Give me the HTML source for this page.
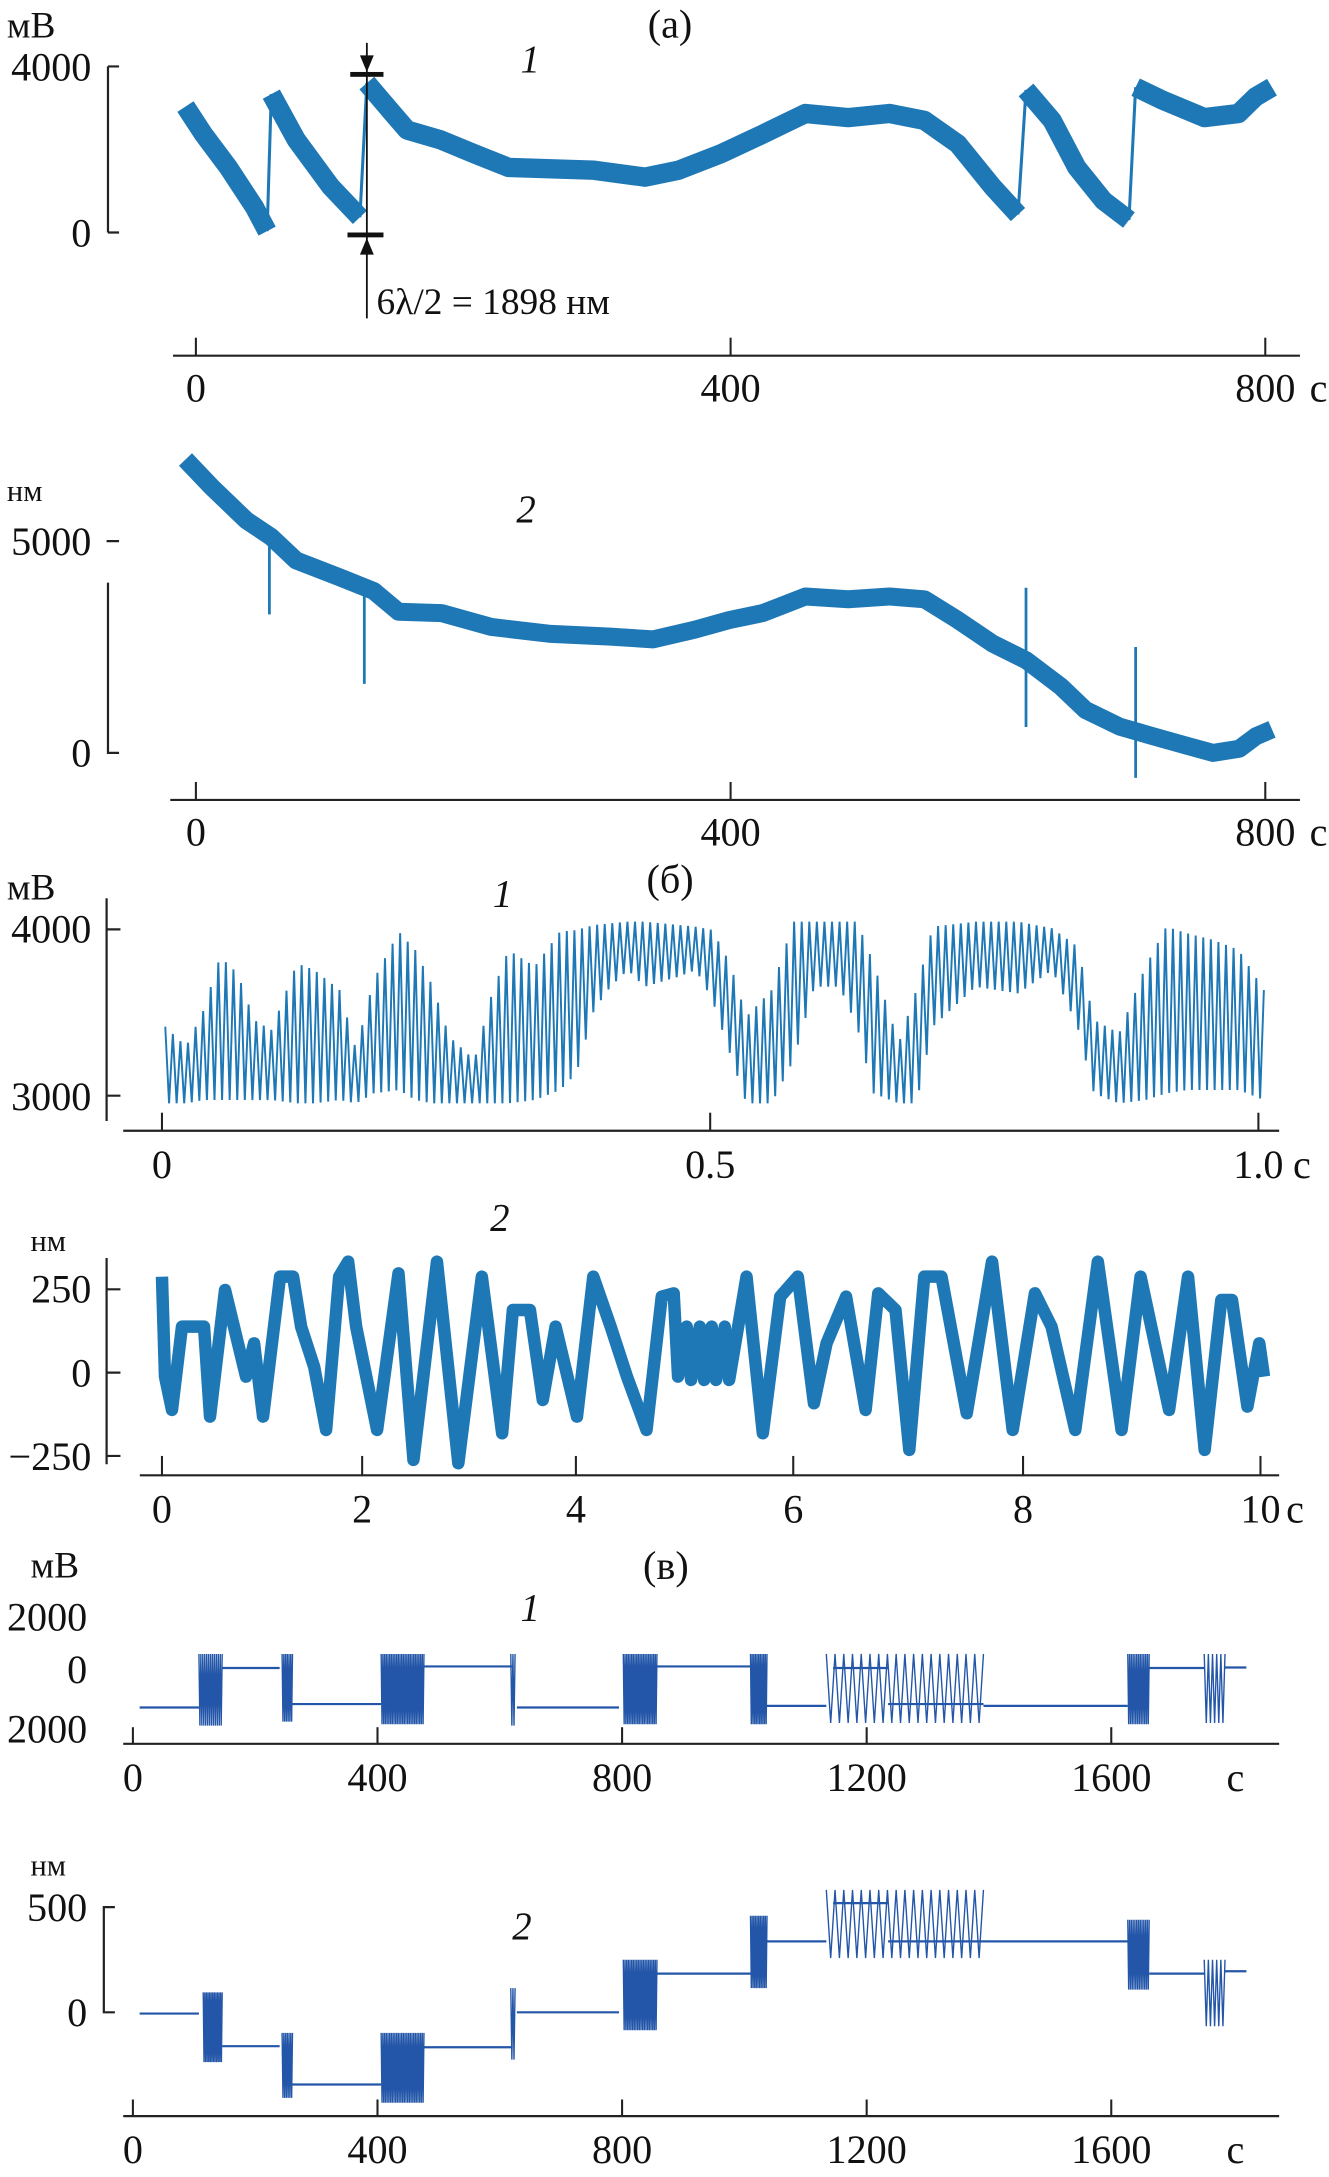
<!DOCTYPE html>
<html><head><meta charset="utf-8"><title>Interferometer signals</title>
<style>
html,body{margin:0;padding:0;background:#fff;}
svg{display:block;}
text{font-family:"Liberation Serif","DejaVu Serif",serif;fill:#111;}
.tk{font-size:29px;}
.un{font-size:27px;}
.un2{font-size:22px;}
.it{font-size:28px;font-style:italic;}
.ax{stroke:#222;stroke-width:1.6;fill:none;}
</style></head>
<body>
<svg id="fig" width="1329" height="2177" viewBox="0 0 960 1573" preserveAspectRatio="none" xmlns="http://www.w3.org/2000/svg">
<g>
<text x="484" y="27" text-anchor="middle" class="tk">(a)</text>
<text x="5" y="27" class="un">мВ</text>
<text x="66" y="58" text-anchor="end" class="tk">4000</text>
<text x="66" y="178" text-anchor="end" class="tk">0</text>
<path class="ax" d="M78,48V168M78,48H86M78,168H86"/>
<text x="383" y="52" text-anchor="middle" class="it">1</text>
<path class="ax" d="M125,257H939"/>
<g id="a1xt"></g>
<text x="946" y="290" class="tk">c</text>
</g>
<g id="a1"></g>
<g>
<path d="M265,31V230" stroke="#111" stroke-width="1.3"/>
<path d="M260,40L265,52L270,40Z" fill="#111"/>
<path d="M260,184L265,172L270,184Z" fill="#111"/>
<rect x="253" y="52" width="24" height="3.5" fill="#111"/>
<rect x="251" y="168" width="26" height="3.5" fill="#111"/>
<text x="272" y="227" style="font-size:27px">6λ/2 = 1898 нм</text>
</g>
<g>
<text x="5" y="362" class="un2">нм</text>
<text x="66" y="401" text-anchor="end" class="tk">5000</text>
<text x="66" y="554" text-anchor="end" class="tk">0</text>
<path class="ax" d="M77,391H86M78,421V544H86"/>
<text x="380" y="377" text-anchor="middle" class="it">2</text>
<path class="ax" d="M123,578H939"/>
<g id="a2xt"></g>
<text x="946" y="611" class="tk">c</text>
</g>
<g id="a2"></g>
<g>
<text x="5" y="650" class="un">мВ</text>
<text x="484" y="645" text-anchor="middle" class="tk">(б)</text>
<text x="363" y="655" text-anchor="middle" class="it">1</text>
<text x="66" y="681" text-anchor="end" class="tk">4000</text>
<text x="66" y="802" text-anchor="end" class="tk">3000</text>
<path class="ax" d="M77,649V810M77,671.5H87M77,791.7H87"/>
<path class="ax" d="M89,817H924"/>
<g id="b1xt"></g>
<text x="934" y="851" class="tk">c</text>
</g>
<g id="b1"></g>
<g>
<text x="22" y="904" class="un2">нм</text>
<text x="361" y="889" text-anchor="middle" class="it">2</text>
<text x="66" y="941" text-anchor="end" class="tk">250</text>
<text x="66" y="1002" text-anchor="end" class="tk">0</text>
<text x="66" y="1062" text-anchor="end" class="tk">−250</text>
<path class="ax" d="M77,909V1058M77,931.6H87M77,991.8H87M77,1052H87"/>
<path class="ax" d="M101,1066H924"/>
<g id="b2xt"></g>
<text x="929" y="1100" class="tk">c</text>
</g>
<g id="b2"></g>
<g>
<text x="22" y="1140" class="un">мВ</text>
<text x="481" y="1141" text-anchor="middle" class="tk">(в)</text>
<text x="383" y="1171" text-anchor="middle" class="it">1</text>
<text x="63" y="1178" text-anchor="end" class="tk">2000</text>
<text x="63" y="1216" text-anchor="end" class="tk">0</text>
<text x="63" y="1259" text-anchor="end" class="tk">2000</text>
<path class="ax" d="M89,1260H924"/>
<g id="c1xt"></g>
<text x="886" y="1294" class="tk">c</text>
</g>
<g id="c1"></g>
<g>
<text x="22" y="1355" class="un2">нм</text>
<text x="377" y="1401" text-anchor="middle" class="it">2</text>
<text x="63" y="1388" text-anchor="end" class="tk">500</text>
<text x="63" y="1464" text-anchor="end" class="tk">0</text>
<path class="ax" d="M83,1378H75V1454H83"/>
<path class="ax" d="M89,1529H924"/>
<g id="c2xt"></g>
<text x="886" y="1563" class="tk">c</text>
</g>
<g id="c2"></g>
</svg>
<script>
const a1Times = [-7.8,5.7,24.3,44,53.3,56.4,75.1,101,122.7,127.9,145.5,158,183,208,234,297.8,336,361,393,424,456,488,519,545,570,596,615,621,640.5,659,679,698,703,722.3,754.4,780,792.7,805];
const a1Values = [3041,2373,1571,601,33,3342,2239,1103,368,3609,2941,2473,2239,1905,1571,1504,1337,1504,1905,2373,2874,2774,2874,2707,2139,1103,434,3442,2707,1571,769,301,3509,3208,2774,2874,3275,3509];
const aTickValues = [0,400,800];
const aTickLabels = ["0","400","800"];
const a2Times = [-7.8,11.9,37.8,56.4,75.1,107.2,133,151.6,183.7,221,265.6,310,342,373,399,424,456,488,519,545,570,596,621,647,665.5,691,716,742,761,780.5,793,805];
const a2Values = [6928,6275,5490,5098,4542,4150,3824,3333,3301,2974,2810,2745,2680,2908,3137,3301,3693,3627,3693,3627,3137,2582,2190,1569,1013,621,392,163,0,98,392,556];
const a2SpikeTimes = [55,126,621,703];
const a2SpikeHigh = [5360,3990,3900,2500];
const a2SpikeLow = [3270,1630,610,-590];
const b1Times = [0.003,0.022,0.038,0.053,0.069,0.084,0.100,0.123,0.139,0.162,0.177,0.193,0.216,0.231,0.247,0.262,0.285,0.301,0.316,0.340,0.363,0.378,0.394,0.409,0.425,0.440,0.471,0.487,0.502,0.518,0.533,0.556,0.576,0.595,0.618,0.634,0.649,0.672,0.688,0.703,0.742,0.781,0.812,0.835,0.850,0.873,0.897,0.916,0.935,0.959,0.982,1.005];
const b1Upper = [3415,3295,3515,3836,3735,3455,3395,3796,3756,3635,3275,3695,3986,3876,3655,3355,3214,3615,3876,3776,3986,3996,4026,4036,4046,4046,4026,4016,3996,3796,3475,3635,4046,4046,4046,4046,3796,3315,3635,4016,4046,4046,4006,3896,3455,3375,3776,4016,3976,3936,3876,3635];
const b1Lower = [2954,2954,2974,2974,2974,2974,2974,2954,2954,2974,2954,3014,3034,2974,2954,2954,2954,2954,2954,2974,3034,3134,3515,3655,3756,3655,3715,3756,3575,3254,2954,2954,3214,3655,3655,3415,3014,2954,2954,3415,3655,3615,3756,3415,3014,2954,2974,3014,3034,3034,3034,2974];
const b1TickValues = [0,0.5,1.0];
const b1TickLabels = ["0","0.5","1.0"];
const b2Times = [0,0.03,0.10,0.20,0.42,0.48,0.63,0.84,0.92,1.01,1.18,1.31,1.39,1.52,1.64,1.77,1.86,1.94,2.14,2.34,2.48,2.70,2.90,3.12,3.31,3.41,3.57,3.69,3.81,4.01,4.16,4.32,4.47,4.65,4.79,4.90,4.94,5.02,5.06,5.14,5.18,5.25,5.29,5.37,5.41,5.57,5.72,5.88,6.04,6.18,6.29,6.46,6.63,6.74,6.89,7.01,7.14,7.29,7.51,7.73,7.91,8.10,8.24,8.44,8.63,8.83,8.99,9.23,9.39,9.53,9.67,9.76,9.89,9.99,10.03];
const b2Values = [288,-12,-112,138,138,-132,248,-12,88,-132,288,288,138,18,-172,288,333,138,-172,298,-262,333,-272,288,-182,188,188,-82,138,-132,288,138,-12,-172,228,238,-12,138,-22,138,-22,138,-22,138,-22,288,-182,228,288,-92,88,228,-112,238,188,-232,288,288,-122,333,-172,238,138,-172,333,-172,288,-112,288,-232,218,218,-102,88,-12];
const b2TickValues = [0,2,4,6,8,10];
const b2TickLabels = ["0","2","4","6","8","10"];
const c1LevelStart = [11,146,261,476,628,857,1037,1145,1235,1391,1662,1786];
const c1LevelEnd = [108,240,406,621,795,1010,1134,1235,1391,1627,1752,1821];
const c1LevelValue = [-1460,40,-1330,100,-1460,100,-1400,40,-1330,-1400,40,60];
const c1BurstStart = [108,244,406,618,802,1010,1134,1627,1752];
const c1BurstEnd = [146,261,476,625,857,1037,1391,1662,1786];
const c1BurstMax = [575,575,575,575,575,575,575,575,575];
const c1BurstMin = [-2150,-2000,-2100,-2150,-2100,-2100,-2050,-2100,-2050];
const c1BurstCount = [12,6,25,2,20,10,18,12,5];
const cTickValues = [0,400,800,1200,1600];
const cTickLabels = ["0","400","800","1200","1600"];
const c2LevelStart = [11,146,261,476,628,857,1037,1145,1235,1391,1662,1786];
const c2LevelEnd = [108,240,406,621,795,1010,1134,1235,1391,1627,1752,1821];
const c2LevelValue = [-6,-161,-343,-166,0,184,337,519,337,337,184,195];
const c2BurstStart = [115,244,406,618,802,1010,1134,1627,1752];
const c2BurstEnd = [146,261,476,625,857,1037,1391,1662,1786];
const c2BurstMax = [95,-98,-98,115,250,459,582,440,250];
const c2BurstMin = [-237,-407,-430,-225,-85,115,258,108,-66];
const c2BurstCount = [12,6,25,2,20,10,18,12,5];

const NS = "http://www.w3.org/2000/svg";
function add(parent, tag, attrs){
  const el = document.createElementNS(NS, tag);
  for (const k in attrs) el.setAttribute(k, attrs[k]);
  document.getElementById(parent).appendChild(el);
  return el;
}
const xA = t => 141.5 + t*0.9656;
const yA1 = v => 168 - v*0.029925;
const yA2 = v => 544 - v*0.0306;
const xB1 = t => 117 + t*792;
const yB1 = v => 791.7 - (v-3000)*0.1202;
function xB2(t){
  const kt=[0,2,4,6,8,10], kx=[117,261.6,416,573,739,910.5];
  let i = 0;
  while (i < kt.length-2 && t > kt[i+1]) i++;
  return kx[i] + (t-kt[i])*(kx[i+1]-kx[i])/(kt[i+1]-kt[i]);
}
const yB2 = v => 991.8 - v*0.2408;
const xC = t => 96 + t*0.4417;
const yC1 = v => 1206 - v*0.019;
const yC2 = v => 1454 - v*0.152;

function ticks(g, vals, labels, xf, yAxis, len, labelY){
  vals.forEach((v,i)=>{
    const tk = add(g,'line',{x1:xf(v),x2:xf(v),y1:yAxis,y2:yAxis-len,stroke:'#222','stroke-width':1.5});
    
    
    const lb = add(g,'text',{x:xf(v),y:labelY,'text-anchor':'middle','class':'tk'});
    lb.textContent = labels[i];
    
    
  });
}
ticks('a1xt', aTickValues, aTickLabels, xA, 257, 13, 290);
ticks('a2xt', aTickValues, aTickLabels, xA, 578, 13, 611);
ticks('b1xt', b1TickValues, b1TickLabels, xB1, 817, 13, 851);
ticks('b2xt', b2TickValues, b2TickLabels, xB2, 1066, 14, 1100);
ticks('c1xt', cTickValues, cTickLabels, xC, 1260, 12, 1294);
ticks('c2xt', cTickValues, cTickLabels, xC, 1529, 12, 1563);

const BLUE = '#1f78b6';
const DBLUE = '#2356a8';

(function(){
  let d = '';
  for (let i=0;i<a1Times.length;i++){
    const x = xA(a1Times[i]), y = yA1(a1Values[i]);
    if (i>0 && Math.abs(a1Times[i]-a1Times[i-1])<=6.5 && Math.abs(a1Values[i]-a1Values[i-1])>1500){
      const j = add('a1','line',{x1:xA(a1Times[i-1]),y1:yA1(a1Values[i-1]),x2:x,y2:y,stroke:BLUE,'stroke-width':2.2});
      
      
      d += 'M'+x+','+y;
    } else {
      d += (d===''?'M':'L')+x+','+y;
    }
  }
  const p = add('a1','path',{d:d,fill:'none',stroke:BLUE,'stroke-width':14,'stroke-linejoin':'round','stroke-linecap':'butt'});
  
  
})();

(function(){
  let d = '';
  a2Times.forEach((t,i)=>{ d += (i?'L':'M')+xA(t)+','+yA2(a2Values[i]); });
  const p = add('a2','path',{d:d,fill:'none',stroke:BLUE,'stroke-width':13,'stroke-linejoin':'round'});
  
  
  a2SpikeTimes.forEach((t,i)=>{
    const s = add('a2','line',{x1:xA(t),x2:xA(t),y1:yA2(a2SpikeHigh[i]),y2:yA2(a2SpikeLow[i]),stroke:BLUE,'stroke-width':2});
    
    
  });
})();

(function(){
  function interp(arr, t){
    if (t<=b1Times[0]) return arr[0];
    for (let i=1;i<b1Times.length;i++){
      if (t<=b1Times[i]){
        const f=(t-b1Times[i-1])/(b1Times[i]-b1Times[i-1]);
        return arr[i-1]+f*(arr[i]-arr[i-1]);
      }
    }
    return arr[arr.length-1];
  }
  const t0 = b1Times[0], t1 = b1Times[b1Times.length-1];
  const n = 290;
  let d = '';
  for (let i=0;i<=n;i++){
    const t = t0 + (t1-t0)*i/n;
    const v = (i%2===0) ? interp(b1Upper,t) : interp(b1Lower,t);
    d += (i?'L':'M')+xB1(t).toFixed(2)+','+yB1(v).toFixed(2);
  }
  const p = add('b1','path',{d:d,fill:'none',stroke:BLUE,'stroke-width':1.4,'stroke-linejoin':'miter'});
  
  
})();

(function(){
  let d = '';
  b2Times.forEach((t,i)=>{ d += (i?'L':'M')+xB2(t).toFixed(2)+','+yB2(b2Values[i]).toFixed(2); });
  const p = add('b2','path',{d:d,fill:'none',stroke:BLUE,'stroke-width':9,'stroke-linejoin':'round'});
  
  
})();

function drawC(g, ls, le, lv, bs, be, bmax, bmin, bc, yf){
  ls.forEach((s,i)=>{
    const l = add(g,'line',{x1:xC(s),x2:xC(le[i]),y1:yf(lv[i]),y2:yf(lv[i]),stroke:DBLUE,'stroke-width':1.6});
    
    
  });
  bs.forEach((s,i)=>{
    const n = bc[i]*2;
    let d = '';
    for (let k=0;k<=n;k++){
      const t = s + (be[i]-s)*k/n;
      const v = (k%2===0) ? bmax[i] : bmin[i];
      d += (k?'L':'M')+xC(t).toFixed(2)+','+yf(v).toFixed(2);
    }
    const p = add(g,'path',{d:d,fill:'none',stroke:DBLUE,'stroke-width':1.0});
    
    
  });
}
drawC('c1', c1LevelStart, c1LevelEnd, c1LevelValue, c1BurstStart, c1BurstEnd, c1BurstMax, c1BurstMin, c1BurstCount, yC1);
drawC('c2', c2LevelStart, c2LevelEnd, c2LevelValue, c2BurstStart, c2BurstEnd, c2BurstMax, c2BurstMin, c2BurstCount, yC2);
</script>
</body></html>
